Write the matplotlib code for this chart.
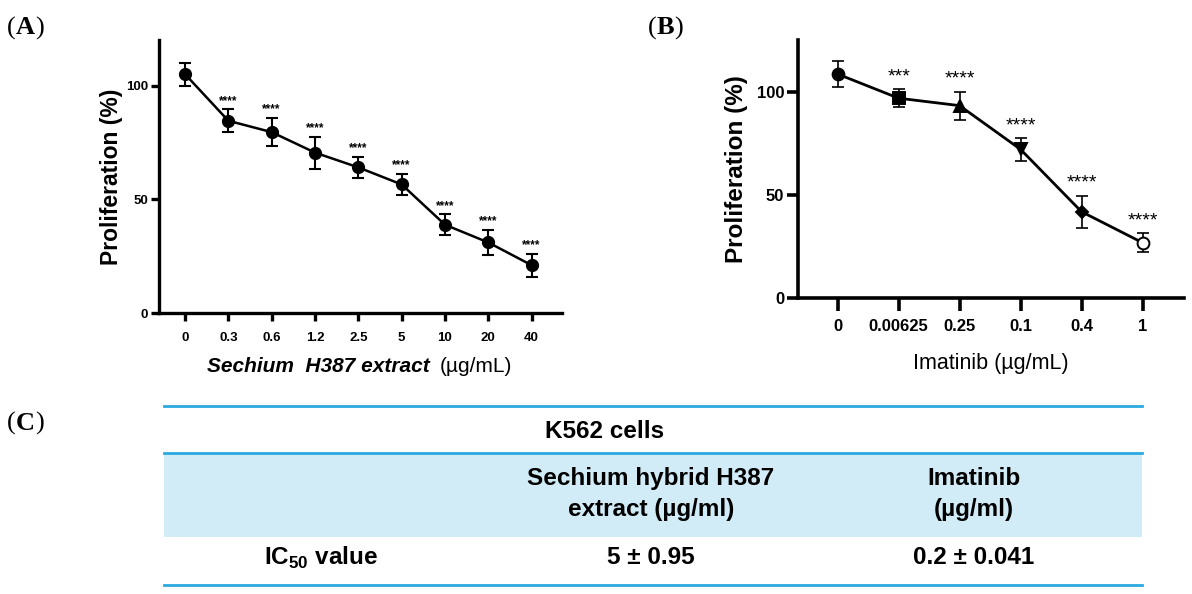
import matplotlib
matplotlib.use("Agg")
import matplotlib.pyplot as plt

plt.rcParams["mathtext.fontset"] = "custom"
plt.rcParams["mathtext.rm"] = "Liberation Sans:bold"
plt.rcParams["mathtext.bf"] = "Liberation Sans:bold"

# ---------------- data ----------------
a_labels = ["0", "0.3", "0.6", "1.2", "2.5", "5", "10", "20", "40"]
a_values = [105, 84.5, 79.5, 70.5, 64, 56.5, 38.8, 31, 21]
a_errors = [5, 5, 6.3, 7, 4.5, 4.8, 4.5, 5.5, 5]
a_stars = ["", "****", "****", "****", "****", "****", "****", "****", "****"]

b_labels = ["0", "0.00625", "0.25", "0.1", "0.4", "1"]
b_values = [108.5, 96.8, 93.2, 72, 41.8, 26.8]
b_errors = [6.3, 4.3, 6.8, 5.4, 7.8, 4.6]
b_stars = ["", "***", "****", "****", "****", "****"]
b_markers = ["o", "s", "^", "v", "D", "o"]
b_fill = [True, True, True, True, True, False]

table_title = "K562 cells"
table_cols = ["Sechium hybrid H387\nextract (µg/ml)", "Imatinib\n(µg/ml)"]
table_row_label = "IC$_{50}$ value"
table_row_vals = ["5 ± 0.95", "0.2 ± 0.041"]

W, H = 1192, 594
fig = plt.figure(figsize=(W / 100, H / 100), dpi=100)

def fx(px):
    return px / W

def fy(py):
    return 1 - py / H

SANS = ["Liberation Sans", "DejaVu Sans"]
SERIF = ["Liberation Serif", "DejaVu Serif"]

def style_axes(ax, lw=2.4):
    for s in ["top", "right"]:
        ax.spines[s].set_visible(False)
    for s in ["left", "bottom"]:
        ax.spines[s].set_linewidth(lw)
    ax.tick_params(width=lw, length=6, direction="out")

# ---------------- Panel A ----------------
axA = fig.add_axes([fx(159), fy(313), fx(562 - 159), (313 - 40) / H])
xa = list(range(len(a_values)))
axA.errorbar(xa, a_values, yerr=a_errors, color="black", lw=1.8, marker="o",
             ms=8.5, capsize=4, capthick=1.5, elinewidth=1.5)
for x, v, e, s in zip(xa, a_values, a_errors, a_stars):
    if s:
        axA.text(x, v + e + 1.2, s, ha="center", va="bottom", fontsize=8.5,
                 fontweight="bold", family=SANS)
axA.set_xlim(-0.6, 8.7)
axA.set_ylim(0, 120)
axA.set_xticks(xa)
axA.set_xticklabels(a_labels, fontsize=9.5, fontweight="bold", family=SANS)
axA.set_yticks([0, 50, 100])
axA.set_yticklabels(["0", "50", "100"], fontsize=9.5, fontweight="bold", family=SANS)
style_axes(axA)
axA.tick_params(axis="x", pad=8)
axA.tick_params(axis="y", pad=2)
axA.set_ylabel("Proliferation (%)", fontsize=16.5, fontweight="bold",
               family=SANS, labelpad=2)
fig.text(fx(430), fy(367), "Sechium  H387 extract", ha="right", va="center",
         fontsize=15, fontweight="bold", style="italic", family=SANS)
fig.text(fx(440), fy(367), "(µg/mL)", ha="left", va="center", fontsize=15,
         family=SANS)

# ---------------- Panel B ----------------
axB = fig.add_axes([fx(798), fy(298), fx(1184 - 798), (298 - 40) / H])
xb = list(range(len(b_values)))
axB.plot(xb, b_values, color="black", lw=2, zorder=2)
axB.errorbar(xb, b_values, yerr=b_errors, fmt="none", ecolor="black",
             elinewidth=1.2, capsize=4, capthick=1.2, zorder=2)
for x, v, m, f in zip(xb, b_values, b_markers, b_fill):
    axB.plot([x], [v], marker=m, ms=8.5 if m != "D" else 6.5,
             mfc="black" if f else "white", mec="black", mew=1.4,
             ls="none", zorder=3)
for x, v, e, s in zip(xb, b_values, b_errors, b_stars):
    if s:
        axB.text(x, v + e + 2, s, ha="center", va="bottom", fontsize=14,
                 family=SANS)
axB.set_xlim(-0.65, 5.68)
axB.set_ylim(0, 125)
axB.set_xticks(xb)
axB.set_xticklabels(b_labels, fontsize=12, fontweight="bold", family=SANS)
axB.set_yticks([0, 50, 100])
axB.set_yticklabels(["0", "50", "100"], fontsize=12, fontweight="bold", family=SANS)
style_axes(axB, lw=2.6)
axB.tick_params(axis="y", length=8, pad=2)
axB.tick_params(axis="x", length=9, pad=6)
axB.set_ylabel("Proliferation (%)", fontsize=17.5, fontweight="bold",
               family=SANS, labelpad=6)
axB.set_xlabel("Imatinib (µg/mL)", fontsize=15.5, family=SANS, labelpad=14)

# ---------------- Panel labels ----------------
for lbl, x, y in [("A", 7, 28), ("B", 648, 28), ("C", 7, 423)]:
    t1 = fig.text(fx(x), fy(y), "(", ha="left", va="center", fontsize=19,
                  family=SERIF)
    a2 = fig.add_artist(plt.Annotation(lbl, xy=(1, 0.5), xycoords=t1,
                                       ha="left", va="center", fontsize=19,
                                       fontweight="bold", family=SERIF))
    fig.add_artist(plt.Annotation(")", xy=(1, 0.5), xycoords=a2, ha="left",
                                  va="center", fontsize=19, family=SERIF))

# ---------------- Table C ----------------
axT = fig.add_axes([0, 0, 1, 1], zorder=-1)
axT.set_xlim(0, W)
axT.set_ylim(H, 0)
axT.axis("off")
line_c = "#29a9e0"
band_c = "#d1ecf7"
x0, x1 = 164, 1142
axT.fill_between([x0, x1], 453, 537, color=band_c, lw=0)
for yy in [406, 453, 585]:
    axT.plot([x0, x1], [yy, yy], color=line_c, lw=2)
TF = dict(fontsize=17.5, fontweight="bold", family=SANS)
axT.text(605, 432, table_title, ha="center", va="center", **TF)
col_x = [651, 974]
for cx, txt in zip(col_x, table_cols):
    axT.text(cx, 494, txt, ha="center", va="center", linespacing=1.4, **TF)
axT.text(321, 558, table_row_label, ha="center", va="center", **TF)
for cx, txt in zip(col_x, table_row_vals):
    axT.text(cx, 558, txt, ha="center", va="center", **TF)

fig.savefig("out.png", dpi=100)
